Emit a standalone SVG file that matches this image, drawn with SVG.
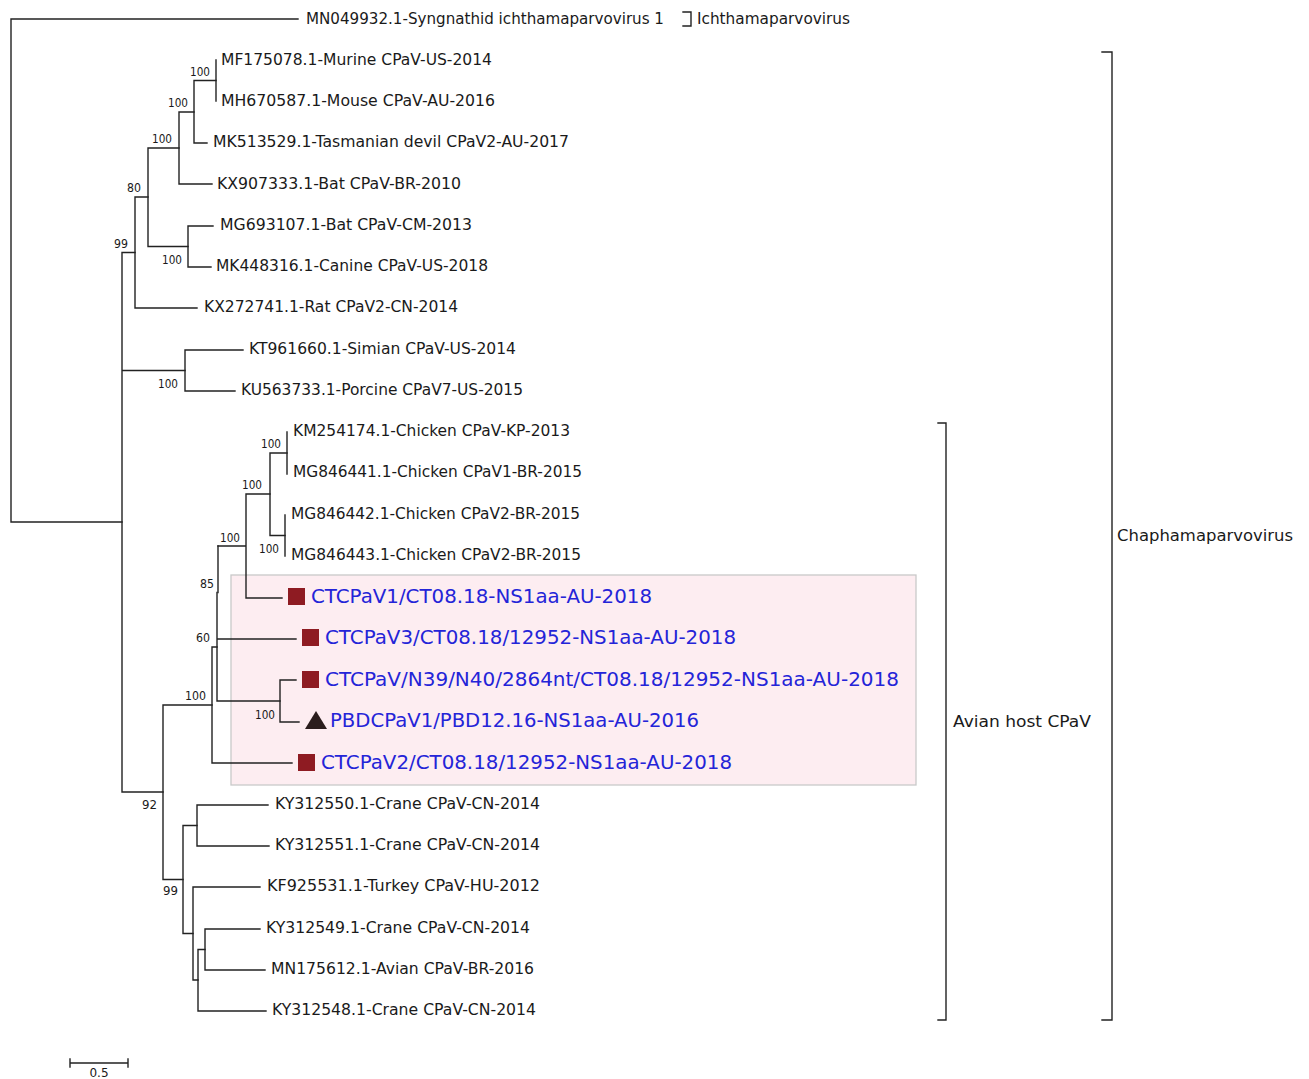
<svg xmlns="http://www.w3.org/2000/svg" width="1309" height="1079" viewBox="0 0 1309 1079">
<style>
.b{fill:none;stroke:#222;stroke-width:1.4;stroke-linecap:square}
.t{font-family:"DejaVu Sans",sans-serif;font-size:16px;fill:#1a1a1a}
.u{font-family:"DejaVu Sans",sans-serif;font-size:19px;fill:#2424d8}
.n{font-family:"DejaVu Sans",sans-serif;font-size:11.5px;fill:#1a1a1a;text-anchor:end}
.sq{fill:#8e1b22}
</style>
<rect width="1309" height="1079" fill="#fff"/>
<rect id="highlight" x="231" y="575" width="685" height="210" fill="#fdedf1" stroke="#c9c9c9" stroke-width="1.3"/>
<g id="connectors" class="b">
<path d="M11 19V522M11 19H298M11 522H122"/>
<path d="M122 252.5V792M122 252.5H135M122 370.5H185M122 792H163"/>
<path d="M135 197V308M135 197H148M135 308H197"/>
<path d="M148 148V246.5M148 148H179M148 246.5H188"/>
<path d="M179 112V184M179 112H194M179 184H212"/>
<path d="M194 80.5V143M194 80.5H216M194 143H207"/>
<path d="M216 60V101"/>
<path d="M188 226V267M188 226H213M188 267H211"/>
<path d="M185 350V391M185 350H243M185 391H235"/>
<path d="M163 705V879.5M163 705H212M163 879.5H183"/>
<path d="M212 647V763M212 647H217M212 763H292"/>
<path d="M217 592.5V701M217 639H296M217 701H280"/>
<path d="M218 546V592.5"/>
<path d="M218 546H246M246 494V598M246 598H282M246 494H270"/>
<path d="M270 453V535.5M270 453H287M270 535.5H285"/>
<path d="M287 432V474M285 515V556"/>
<path d="M280 680V722M280 680H296M280 722H299"/>
<path d="M183 825.5V933.5M183 825.5H197M183 933.5H193"/>
<path d="M197 805V846M197 805H268M197 846H269"/>
<path d="M193 887V980M193 887H260M193 980H198"/>
<path d="M198 949.5V1011M198 949.5H205M198 1011H266"/>
<path d="M205 929V970M205 929H260M205 970H265"/>
</g>
<g id="bootstrap">
<text class="n" x="210" y="76" textLength="20" lengthAdjust="spacingAndGlyphs">100</text>
<text class="n" x="188" y="107" textLength="20" lengthAdjust="spacingAndGlyphs">100</text>
<text class="n" x="172" y="143" textLength="20" lengthAdjust="spacingAndGlyphs">100</text>
<text class="n" x="141" y="192" textLength="14" lengthAdjust="spacingAndGlyphs">80</text>
<text class="n" x="128" y="248" textLength="14" lengthAdjust="spacingAndGlyphs">99</text>
<text class="n" x="182" y="264" textLength="20" lengthAdjust="spacingAndGlyphs">100</text>
<text class="n" x="178" y="388" textLength="20" lengthAdjust="spacingAndGlyphs">100</text>
<text class="n" x="281" y="448" textLength="20" lengthAdjust="spacingAndGlyphs">100</text>
<text class="n" x="262" y="489" textLength="20" lengthAdjust="spacingAndGlyphs">100</text>
<text class="n" x="240" y="542" textLength="20" lengthAdjust="spacingAndGlyphs">100</text>
<text class="n" x="279" y="553" textLength="20" lengthAdjust="spacingAndGlyphs">100</text>
<text class="n" x="214" y="588" textLength="14" lengthAdjust="spacingAndGlyphs">85</text>
<text class="n" x="210" y="642" textLength="14" lengthAdjust="spacingAndGlyphs">60</text>
<text class="n" x="206" y="700" textLength="21" lengthAdjust="spacingAndGlyphs">100</text>
<text class="n" x="275" y="719" textLength="20" lengthAdjust="spacingAndGlyphs">100</text>
<text class="n" x="157" y="809" textLength="15" lengthAdjust="spacingAndGlyphs">92</text>
<text class="n" x="178" y="895" textLength="15" lengthAdjust="spacingAndGlyphs">99</text>
</g>
<g id="leaves">
<text class="t" x="306" y="24" textLength="358" lengthAdjust="spacingAndGlyphs">MN049932.1-Syngnathid ichthamaparvovirus 1</text>
<text class="t" x="221" y="65" textLength="271" lengthAdjust="spacingAndGlyphs">MF175078.1-Murine CPaV-US-2014</text>
<text class="t" x="221" y="106" textLength="274" lengthAdjust="spacingAndGlyphs">MH670587.1-Mouse CPaV-AU-2016</text>
<text class="t" x="213" y="147" textLength="356" lengthAdjust="spacingAndGlyphs">MK513529.1-Tasmanian devil CPaV2-AU-2017</text>
<text class="t" x="217" y="189" textLength="244" lengthAdjust="spacingAndGlyphs">KX907333.1-Bat CPaV-BR-2010</text>
<text class="t" x="220" y="230" textLength="252" lengthAdjust="spacingAndGlyphs">MG693107.1-Bat CPaV-CM-2013</text>
<text class="t" x="216" y="271" textLength="272" lengthAdjust="spacingAndGlyphs">MK448316.1-Canine CPaV-US-2018</text>
<text class="t" x="204" y="312" textLength="254" lengthAdjust="spacingAndGlyphs">KX272741.1-Rat CPaV2-CN-2014</text>
<text class="t" x="249" y="354" textLength="267" lengthAdjust="spacingAndGlyphs">KT961660.1-Simian CPaV-US-2014</text>
<text class="t" x="241" y="395" textLength="282" lengthAdjust="spacingAndGlyphs">KU563733.1-Porcine CPaV7-US-2015</text>
<text class="t" x="293" y="436" textLength="277" lengthAdjust="spacingAndGlyphs">KM254174.1-Chicken CPaV-KP-2013</text>
<text class="t" x="293" y="477" textLength="289" lengthAdjust="spacingAndGlyphs">MG846441.1-Chicken CPaV1-BR-2015</text>
<text class="t" x="291" y="519" textLength="289" lengthAdjust="spacingAndGlyphs">MG846442.1-Chicken CPaV2-BR-2015</text>
<text class="t" x="291" y="560" textLength="290" lengthAdjust="spacingAndGlyphs">MG846443.1-Chicken CPaV2-BR-2015</text>
<text class="t" x="275" y="809" textLength="265" lengthAdjust="spacingAndGlyphs">KY312550.1-Crane CPaV-CN-2014</text>
<text class="t" x="275" y="850" textLength="265" lengthAdjust="spacingAndGlyphs">KY312551.1-Crane CPaV-CN-2014</text>
<text class="t" x="267" y="891" textLength="273" lengthAdjust="spacingAndGlyphs">KF925531.1-Turkey CPaV-HU-2012</text>
<text class="t" x="266" y="933" textLength="264" lengthAdjust="spacingAndGlyphs">KY312549.1-Crane CPaV-CN-2014</text>
<text class="t" x="271" y="974" textLength="263" lengthAdjust="spacingAndGlyphs">MN175612.1-Avian CPaV-BR-2016</text>
<text class="t" x="272" y="1015" textLength="264" lengthAdjust="spacingAndGlyphs">KY312548.1-Crane CPaV-CN-2014</text>
</g>
<g id="study-seqs">
<rect class="sq" x="288" y="588" width="17" height="17"/>
<text class="u" x="311" y="603" textLength="341" lengthAdjust="spacingAndGlyphs">CTCPaV1/CT08.18-NS1aa-AU-2018</text>
<rect class="sq" x="302" y="629" width="17" height="17"/>
<text class="u" x="325" y="644" textLength="411" lengthAdjust="spacingAndGlyphs">CTCPaV3/CT08.18/12952-NS1aa-AU-2018</text>
<rect class="sq" x="302" y="671" width="17" height="17"/>
<text class="u" x="325" y="686" textLength="574" lengthAdjust="spacingAndGlyphs">CTCPaV/N39/N40/2864nt/CT08.18/12952-NS1aa-AU-2018</text>
<polygon points="305,729 316,711 327,729" fill="#2b1d1d"/>
<text class="u" x="330" y="727" textLength="369" lengthAdjust="spacingAndGlyphs">PBDCPaV1/PBD12.16-NS1aa-AU-2016</text>
<rect class="sq" x="298" y="754" width="17" height="17"/>
<text class="u" x="321" y="769" textLength="411" lengthAdjust="spacingAndGlyphs">CTCPaV2/CT08.18/12952-NS1aa-AU-2018</text>
</g>
<g id="clade-ichtha">
<path class="b" d="M683 12H691V26H683"/>
<text class="t" x="697" y="24" textLength="153" lengthAdjust="spacingAndGlyphs">Ichthamaparvovirus</text>
</g>
<g id="clade-avian">
<path class="b" d="M938 423H946V1020H938"/>
<text class="t" x="953" y="727" textLength="138" lengthAdjust="spacingAndGlyphs">Avian host CPaV</text>
</g>
<g id="clade-chapha">
<path class="b" d="M1102 52H1112V1020H1102"/>
<text class="t" x="1117" y="541" textLength="176" lengthAdjust="spacingAndGlyphs">Chaphamaparvovirus</text>
</g>
<g id="scale">
<path class="b" d="M70 1063H128M70 1059V1067M128 1059V1067"/>
<text x="99" y="1077" font-family="DejaVu Sans,sans-serif" font-size="12" text-anchor="middle" fill="#1a1a1a">0.5</text>
</g>
</svg>
